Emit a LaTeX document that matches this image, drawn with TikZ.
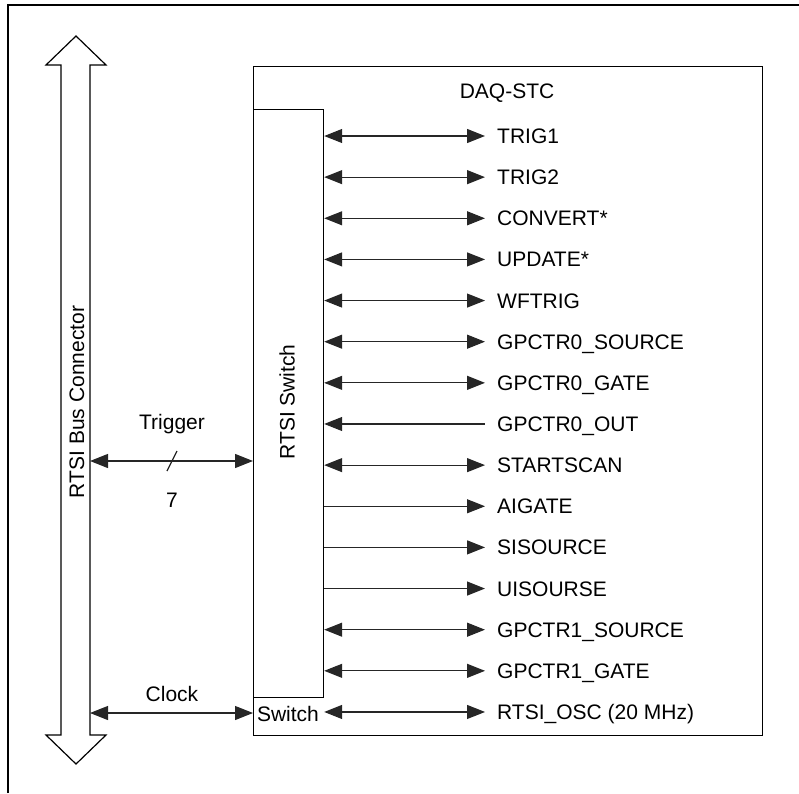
\documentclass[tikz,border=0pt]{standalone}
\usepackage{fontspec}
\setmainfont{Liberation Sans}
\usetikzlibrary{arrows.meta}
\begin{document}
\begin{tikzpicture}[x=1pt,y=-1pt,
  lbl/.style={font=\fontsize{21}{25}\selectfont, inner sep=0pt},
  sig/.style={lbl, anchor=west, text height=15pt, text depth=0pt},
  box/.style={draw, line width=1.2pt, inner sep=0pt, anchor=north west},
  conn/.style={line width=1.2pt, draw=black!85},
  sigboth/.style={conn, {Triangle[length=18pt,width=14pt]}-{Triangle[length=18pt,width=14pt]}},
  sigright/.style={conn, -{Triangle[length=18pt,width=14pt]}},
  sigleft/.style={conn, {Triangle[length=18pt,width=14pt]}-},
]
\useasboundingbox (0,0) rectangle (799,793);
% outer frame (clipped at right and bottom)
\draw[line width=2.2pt] (8,793) -- (8,5) -- (799,5);
% RTSI bus double arrow
\draw[line width=1.2pt, line join=miter] (76,36) -- (106,65) -- (90,65) -- (90,735) -- (106,735) -- (76,764) -- (46,735) -- (61,735) -- (61,65) -- (46,65) -- cycle;
\node[lbl, rotate=90] (buslbl) at (77,402) {RTSI Bus Connector};
% boxes
\node[box, minimum width=509pt, minimum height=669pt] (daq) at (253,66) {};
\node[box, minimum width=70pt, minimum height=588pt] (sw) at (253,109) {};
\node[lbl] (daqlbl) at (507,93) {DAQ-STC};
\node[lbl, rotate=90] (swlbl) at (287,402) {RTSI Switch};
\node[lbl] (swl) at (288,714) {Switch};
% signals
\foreach \i/\txt/\s in {0/TRIG1/sigboth, 1/TRIG2/sigboth, 2/CONVERT*/sigboth, 3/UPDATE*/sigboth,
  4/WFTRIG/sigboth, 5/GPCTR0\_SOURCE/sigboth, 6/GPCTR0\_GATE/sigboth, 7/GPCTR0\_OUT/sigleft,
  8/STARTSCAN/sigboth, 9/AIGATE/sigright, 10/SISOURCE/sigright, 11/UISOURSE/sigright,
  12/GPCTR1\_SOURCE/sigboth, 13/GPCTR1\_GATE/sigboth, 14/RTSI\_OSC (20 MHz)/sigboth}{
  \node[sig] (l\i) at (497,136+41.14*\i) {\txt};
  \draw[\s] (sw.east |- l\i.west) -- ([xshift=-12pt]l\i.west);
}
% trigger
\coordinate (busT) at (90,461);
\draw[sigboth] (busT) -- (busT -| sw.west);
\node[lbl] (trig) at (172,424) {Trigger};
\node[lbl] (seven) at (172,500) {7};
\coordinate (sl1) at (167,471);
\coordinate (sl2) at (177,451);
\draw[conn] (sl1) -- (sl2);
% clock
\coordinate (busC) at (90,713);
\draw[sigboth] (busC) -- (busC -| sw.west);
\node[lbl] (clk) at (172,694) {Clock};
\end{tikzpicture}
\end{document}
